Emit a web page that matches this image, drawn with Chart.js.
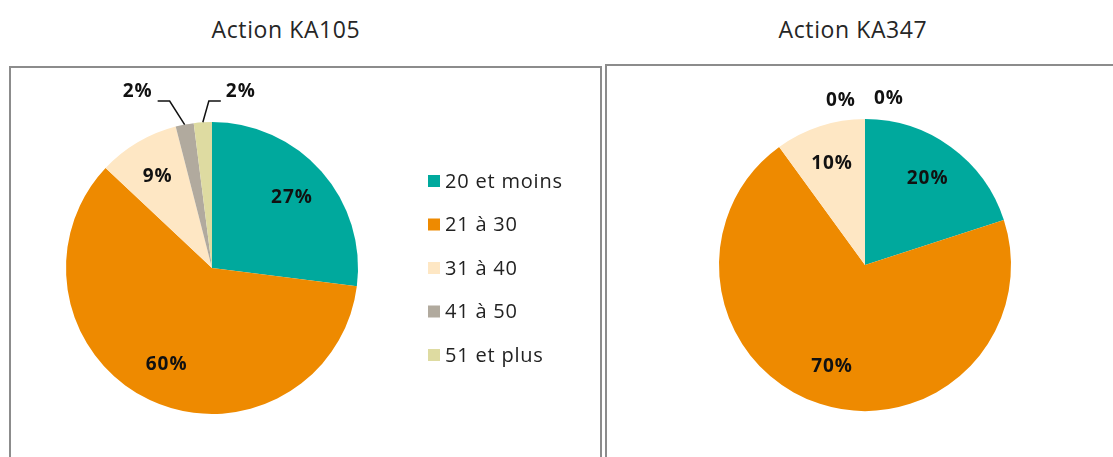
<!DOCTYPE html>
<html lang="fr">
<head>
    <meta charset="UTF-8">
    <title>Actions KA105 / KA347</title>
    <script src="https://cdn.jsdelivr.net/npm/chart.js"></script>
    <style>
        body { margin: 0; background: #fff; width: 1113px; height: 457px; overflow: hidden; position: relative; font-family: "Open Sans", sans-serif; }
        .title { position: absolute; top: 13px; font-size: 23px; color: #262626; text-align: center; width: 300px; letter-spacing: 0.6px; }
        .frame { position: absolute; border: 2px solid #8c8c8c; box-sizing: border-box; height: 420px; }
        canvas { position: absolute; }
    </style>
</head>
<body>
    <div class="title" style="left: 136px;">Action KA105</div>
    <div class="title" style="left: 703px;">Action KA347</div>
    <div class="frame" style="left: 9px; top: 66px; width: 593px;"></div>
    <div class="frame" style="left: 605px; top: 64px; width: 520px;"></div>
    <canvas id="ka105" width="590" height="390" style="left: 10px; top: 67px;"></canvas>
    <canvas id="ka347" width="505" height="391" style="left: 607px; top: 66px;"></canvas>

    <script>
        const categories = ["20 et moins", "21 à 30", "31 à 40", "41 à 50", "51 et plus"];
        const ka105Values = [27, 60, 9, 2, 2];
        const ka347Values = [20, 70, 10, 0, 0];
        const sliceColors = ["#00a99d", "#ee8a00", "#fee7c4", "#b1aa9e", "#dedba1"];

        const FONT = "'Open Sans', sans-serif";

        // percentage labels, with leader lines for the thin slices
        const pieLabels = {
            id: "pieLabels",
            afterDatasetsDraw(chart) {
                const ctx = chart.ctx;
                const meta = chart.getDatasetMeta(0);
                const values = chart.data.datasets[0].data;
                let smallCount = 0, zeroCount = 0;
                ctx.save();
                ctx.fillStyle = "#111";
                ctx.strokeStyle = "#111";
                ctx.lineWidth = 1.5;
                ctx.font = "bold 19px " + FONT;
                ctx.letterSpacing = "1px";
                ctx.textBaseline = "middle";
                meta.data.forEach((arc, i) => {
                    const p = arc.getProps(["x", "y", "startAngle", "endAngle", "outerRadius"], true);
                    const mid = (p.startAngle + p.endAngle) / 2;
                    const r = p.outerRadius;
                    const text = values[i] + "%";
                    if (values[i] === 0) {
                        const dir = zeroCount++ % 2 === 0 ? -1 : 1;
                        ctx.textAlign = "center";
                        ctx.fillText(text, p.x + dir * 24, p.y - r - 18 - (dir > 0 ? 2 : 0));
                    } else if (values[i] < 5) {
                        const dir = smallCount++ % 2 === 0 ? -1 : 1;
                        const ax = p.x + Math.cos(mid) * r;
                        const ay = p.y + Math.sin(mid) * r;
                        const ex = ax + dir * (dir < 0 ? 15 : 6);
                        const ey = p.y - r - 21;
                        const hx = ex + dir * 12;
                        ctx.beginPath();
                        ctx.moveTo(ax, ay);
                        ctx.lineTo(ex, ey);
                        ctx.lineTo(hx, ey);
                        ctx.stroke();
                        ctx.textAlign = dir < 0 ? "right" : "left";
                        ctx.fillText(text, hx + dir * 5, ey - 9);
                    } else {
                        ctx.textAlign = "center";
                        ctx.fillText(text, p.x + Math.cos(mid) * r * 0.73, p.y + Math.sin(mid) * r * 0.73);
                    }
                });
                ctx.restore();
            }
        };

        // vertical legend to the right of the pie
        const sideLegend = {
            id: "sideLegend",
            afterDraw(chart, args, opts) {
                if (!opts.show) return;
                const ctx = chart.ctx;
                const area = chart.chartArea;
                const cy = (area.top + area.bottom) / 2;
                const step = 43.5;
                const x = area.right + 70;
                ctx.save();
                ctx.font = "20px " + FONT;
                ctx.letterSpacing = "0.8px";
                ctx.textBaseline = "middle";
                ctx.textAlign = "left";
                chart.data.labels.forEach((label, i) => {
                    const y = cy + (i - (chart.data.labels.length - 1) / 2) * step;
                    ctx.fillStyle = chart.data.datasets[0].backgroundColor[i];
                    ctx.fillRect(x, y - 6, 12, 12);
                    ctx.fillStyle = "#222";
                    ctx.fillText(label, x + 17, y + 1);
                });
                ctx.restore();
            }
        };

        function makePie(id, values, padding, legend) {
            return new Chart(document.getElementById(id), {
                type: "pie",
                data: {
                    labels: categories,
                    datasets: [{
                        data: values,
                        backgroundColor: sliceColors,
                        borderWidth: 0
                    }]
                },
                options: {
                    responsive: false,
                    animation: false,
                    layout: { padding: padding },
                    plugins: {
                        legend: { display: false },
                        tooltip: { enabled: false },
                        sideLegend: { show: legend }
                    }
                },
                plugins: [pieLabels, sideLegend]
            });
        }

        makePie("ka105", ka105Values, { left: 56, right: 242, top: 55, bottom: 43 }, true);
        makePie("ka347", ka347Values, { left: 112, right: 101, top: 53, bottom: 46 }, false);
    </script>
</body>
</html>
